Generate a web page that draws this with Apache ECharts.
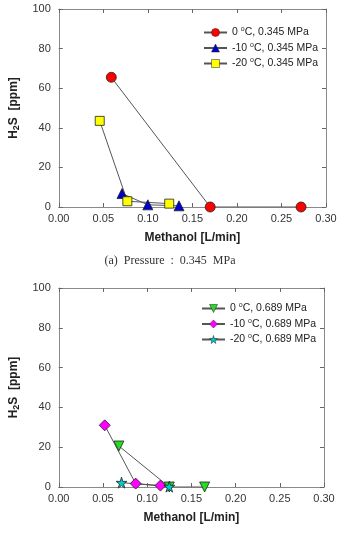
<!DOCTYPE html>
<html>
<head>
<meta charset="utf-8">
<script src="https://cdn.jsdelivr.net/npm/echarts@6/dist/echarts.min.js"></script>
<style>
  html, body { margin: 0; padding: 0; background: #fff; }
  #chart { width: 340px; height: 533px; }
</style>
</head>
<body>
<div id="chart"></div>
<script>
// panel (a) : 0.345 MPa
const namesA = ['0 °C, 0.345 MPa', '-10 °C, 0.345 MPa', '-20 °C, 0.345 MPa'];
const a0x = [0.059, 0.170, 0.272], a0y = [65.5, 0, 0];
const a10x = [0.071, 0.100, 0.135], a10y = [6.8, 1.1, 0.6];
const a20x = [0.046, 0.077, 0.124], a20y = [43.5, 2.9, 1.7];

// panel (b) : 0.689 MPa
const namesB = ['0 °C, 0.689 MPa', '-10 °C, 0.689 MPa', '-20 °C, 0.689 MPa'];
const b0x = [0.068, 0.125, 0.165], b0y = [20.6, 0, 0];
const b10x = [0.052, 0.087, 0.115], b10y = [31, 1.7, 0.7];
const b20x = [0.071, 0.125], b20y = [2.2, 0.2];

const STAR = 'path://M50,0 L61,35 L98,35 L68,57 L79,91 L50,70 L21,91 L32,57 L2,35 L39,35 Z';
const TRI_DOWN = 'path://M0,0 L100,0 L50,90 Z';

function pts(xs, ys) { return xs.map((x, i) => [x, ys[i]]); }

const el = document.getElementById('chart');
const chart = echarts.init(el, null, { renderer: 'canvas' });

const FONT = 'Liberation Sans, Arial, sans-serif';
const axisLine = { show: true, onZero: false, lineStyle: { color: '#8a8a8a', width: 1 } };
const tickIn = { show: true, inside: true, length: 4, lineStyle: { color: '#666' } };
const lblFont = { color: '#333', fontSize: 11, fontFamily: FONT };

function xAx(grid, main) {
  return {
    type: 'value', gridIndex: grid, min: 0, max: 0.3, interval: 0.05,
    position: main ? 'bottom' : 'top',
    axisLine: axisLine, axisTick: tickIn, splitLine: { show: false },
    axisLabel: main ? Object.assign({ margin: 6, formatter: v => v.toFixed(2) }, lblFont) : { show: false },
    name: main ? 'Methanol [L/min]' : '', nameLocation: 'middle', nameGap: 25,
    nameTextStyle: { fontSize: 12, fontWeight: 'bold', color: '#222', fontFamily: FONT }
  };
}
function yAx(grid, main) {
  return {
    type: 'value', gridIndex: grid, min: 0, max: 100, interval: 20,
    position: main ? 'left' : 'right',
    axisLine: axisLine, axisTick: tickIn, splitLine: { show: false },
    axisLabel: main ? Object.assign({ margin: 8 }, lblFont) : { show: false },
    name: main ? '{b|H}{sub|2}{b|S  [ppm]}' : '', nameLocation: 'middle', nameGap: 37, nameRotate: 90,
    nameTextStyle: {
      fontFamily: FONT, color: '#222',
      rich: {
        b: { fontSize: 12, fontWeight: 'bold', color: '#222' },
        sub: { fontSize: 9, fontWeight: 'bold', color: '#222', padding: [6, 0, 0, 0] }
      }
    }
  };
}

function ser(name, xs, ys, ax, symbol, size, color) {
  return {
    name: name, type: 'line', xAxisIndex: ax, yAxisIndex: ax,
    data: pts(xs, ys), symbol: symbol, symbolSize: size, showSymbol: true,
    lineStyle: { color: '#555', width: 1 },
    itemStyle: { color: color, borderColor: '#222', borderWidth: 0.8 },
    z: 3
  };
}

const legendRich = { s: { fontSize: 7, padding: [0, 0, 6, 0], color: '#222' } };
function legendFmt(n) { return n.replace('°', '{s|o}'); }
function legend(names, left, top) {
  return {
    data: names, orient: 'vertical', left: left, top: top, itemWidth: 23, itemHeight: 10, itemGap: 3.5,
    formatter: legendFmt,
    itemStyle: { borderWidth: 0.5 },
    textStyle: { fontSize: 10.5, color: '#222', fontFamily: FONT, rich: legendRich }
  };
}

chart.setOption({
  animation: false,
  grid: [
    { left: 49, top: 9, width: 277, height: 198 },
    { left: 47, top: 288, width: 277, height: 199 }
  ],
  xAxis: [xAx(0, true), xAx(0, false), xAx(1, true), xAx(1, false)],
  yAxis: [yAx(0, true), yAx(0, false), yAx(1, true), yAx(1, false)],
  legend: [legend(namesA, 198, 21), legend(namesB, 196, 297)],
  graphic: [
    {
      type: 'text', left: 'center', top: 255,
      style: { text: '(a)  Pressure  :  0.345  MPa', fontSize: 12, fill: '#333', fontFamily: 'Liberation Serif, Times New Roman, serif' }
    }
  ],
  series: [
    ser(namesA[0], a0x, a0y, 0, 'circle', 10, '#ff0000'),
    ser(namesA[1], a10x, a10y, 0, 'triangle', 10, '#0000cc'),
    ser(namesA[2], a20x, a20y, 0, 'rect', 9, '#ffff00'),
    ser(namesB[0], b0x, b0y, 2, TRI_DOWN, 10, '#22dd22'),
    ser(namesB[1], b10x, b10y, 2, 'diamond', 11, '#ff00ff'),
    ser(namesB[2], b20x, b20y, 2, STAR, 11, '#00cccc')
  ]
});
</script>
</body>
</html>
